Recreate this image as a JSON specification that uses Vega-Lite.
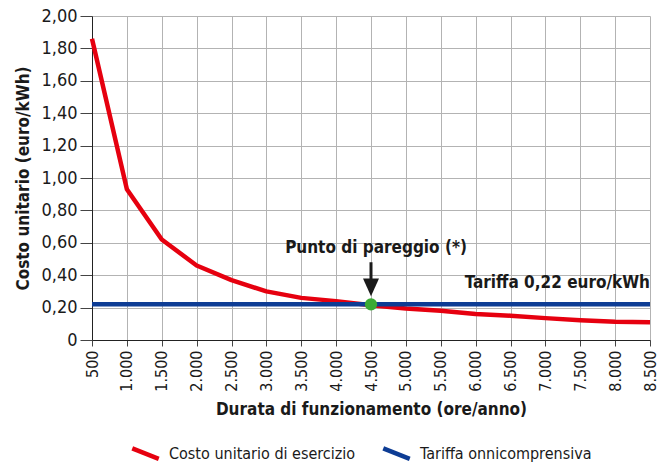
{
  "$schema": "https://vega.github.io/schema/vega-lite/v6.json",
  "width": 558,
  "height": 324,
  "autosize": {"type": "none"},
  "padding": {"left": 92, "top": 16, "right": 10, "bottom": 126},
  "background": "white",
  "config": {
    "locale": {"number": {"decimal": ",", "thousands": ".", "grouping": [3], "currency": ["€", ""]}},
    "font": "DejaVu Sans Condensed, Roboto, sans-serif",
    "view": {"stroke": null},
    "axis": {
      "labelFont": "DejaVu Sans Condensed, Roboto, sans-serif",
      "titleFont": "DejaVu Sans Condensed, Roboto, sans-serif",
      "labelColor": "#1a1a1a",
      "titleColor": "#1a1a1a",
      "domainColor": "#222222",
      "tickColor": "#444444",
      "gridColor": "#b3b3b3",
      "gridWidth": 1,
      "labelOverlap": false
    }
  },
  "datasets": {
    "series": [
      {"ore": 500, "costo": 1.86, "serie": "Costo unitario di esercizio"},
      {"ore": 1000, "costo": 0.93, "serie": "Costo unitario di esercizio"},
      {"ore": 1500, "costo": 0.62, "serie": "Costo unitario di esercizio"},
      {"ore": 2000, "costo": 0.46, "serie": "Costo unitario di esercizio"},
      {"ore": 2500, "costo": 0.37, "serie": "Costo unitario di esercizio"},
      {"ore": 3000, "costo": 0.30, "serie": "Costo unitario di esercizio"},
      {"ore": 3500, "costo": 0.26, "serie": "Costo unitario di esercizio"},
      {"ore": 4000, "costo": 0.24, "serie": "Costo unitario di esercizio"},
      {"ore": 4500, "costo": 0.215, "serie": "Costo unitario di esercizio"},
      {"ore": 5000, "costo": 0.195, "serie": "Costo unitario di esercizio"},
      {"ore": 5500, "costo": 0.18, "serie": "Costo unitario di esercizio"},
      {"ore": 6000, "costo": 0.16, "serie": "Costo unitario di esercizio"},
      {"ore": 6500, "costo": 0.15, "serie": "Costo unitario di esercizio"},
      {"ore": 7000, "costo": 0.135, "serie": "Costo unitario di esercizio"},
      {"ore": 7500, "costo": 0.122, "serie": "Costo unitario di esercizio"},
      {"ore": 8000, "costo": 0.112, "serie": "Costo unitario di esercizio"},
      {"ore": 8500, "costo": 0.11, "serie": "Costo unitario di esercizio"},
      {"ore": 500, "costo": 0.22, "serie": "Tariffa onnicomprensiva"},
      {"ore": 8500, "costo": 0.22, "serie": "Tariffa onnicomprensiva"}
    ],
    "pareggio": [{"ore": 4500, "costo": 0.22}],
    "freccia": [{"ore": 4500, "y1": 0.48, "y2": 0.36, "tip": 0.325}],
    "etichetta1": [{"ore": 4500, "costo": 0.57, "testo": "Punto di pareggio (*)"}],
    "etichetta2": [{"ore": 8500, "costo": 0.35, "testo": "Tariffa 0,22 euro/kWh"}]
  },
  "layer": [
    {
      "data": {"name": "series"},
      "mark": {"type": "line", "strokeWidth": 4.5, "strokeJoin": "round", "strokeCap": "butt", "clip": false},
      "encoding": {
        "x": {
          "field": "ore", "type": "quantitative",
          "scale": {"domain": [500, 8500], "nice": false, "zero": false},
          "axis": {
            "values": [500, 1000, 1500, 2000, 2500, 3000, 3500, 4000, 4500, 5000, 5500, 6000, 6500, 7000, 7500, 8000, 8500],
            "tickCount": 40,
            "labelOverlap": false,
            "format": ",d",
            "labelAngle": -90,
            "labelFontSize": 16,
            "labelPadding": 4,
            "tickSize": 6,
            "title": "Durata di funzionamento (ore/anno)",
            "titleFontSize": 17,
            "titleFontWeight": "bold",
            "titlePadding": 10,
            "grid": true
          }
        },
        "y": {
          "field": "costo", "type": "quantitative",
          "scale": {"domain": [0, 2], "nice": false},
          "axis": {
            "values": [0, 0.2, 0.4, 0.6, 0.8, 1.0, 1.2, 1.4, 1.6, 1.8, 2.0],
            "tickCount": 40,
            "labelOverlap": false,
            "labelExpr": "datum.value == 0 ? '0' : format(datum.value, '.2f')",
            "labelFontSize": 18,
            "labelPadding": 3,
            "tickSize": 12,
            "title": "Costo unitario (euro/kWh)",
            "titleFontSize": 17,
            "titleFontWeight": "bold",
            "titlePadding": 8,
            "grid": true
          }
        },
        "color": {
          "field": "serie", "type": "nominal",
          "scale": {"domain": ["Costo unitario di esercizio", "Tariffa onnicomprensiva"], "range": ["#e6000f", "#0d3c94"]},
          "legend": {
            "title": null,
            "orient": "none",
            "direction": "horizontal",
            "legendX": 38,
            "legendY": 422,
            "symbolType": "M-1,-0.4L1,0.4",
            "symbolSize": 700,
            "symbolStrokeWidth": 4.5,
            "labelFontSize": 16,
            "labelFont": "DejaVu Sans Condensed, Roboto, sans-serif",
            "labelColor": "#1a1a1a",
            "columnPadding": 18,
            "labelOffset": 8,
            "labelLimit": 300
          }
        }
      }
    },
    {
      "data": {"name": "pareggio"},
      "mark": {"type": "point", "filled": true, "size": 150, "color": "#3aaa35", "opacity": 1},
      "encoding": {
        "x": {"field": "ore", "type": "quantitative"},
        "y": {"field": "costo", "type": "quantitative"}
      }
    },
    {
      "data": {"name": "freccia"},
      "mark": {"type": "rule", "strokeWidth": 3, "color": "#1a1a1a"},
      "encoding": {
        "x": {"field": "ore", "type": "quantitative"},
        "y": {"field": "y1", "type": "quantitative"},
        "y2": {"field": "y2"}
      }
    },
    {
      "data": {"name": "freccia"},
      "mark": {"type": "point", "shape": "M-1,-1.1L1,-1.1L0,1.1Z", "filled": true, "size": 256, "color": "#1a1a1a", "opacity": 1},
      "encoding": {
        "x": {"field": "ore", "type": "quantitative"},
        "y": {"field": "tip", "type": "quantitative"}
      }
    },
    {
      "data": {"name": "etichetta1"},
      "mark": {"type": "text", "fontSize": 17, "fontWeight": "bold", "color": "#1a1a1a", "font": "DejaVu Sans Condensed, Roboto, sans-serif", "baseline": "middle", "align": "center", "dx": 5},
      "encoding": {
        "x": {"field": "ore", "type": "quantitative"},
        "y": {"field": "costo", "type": "quantitative"},
        "text": {"field": "testo"}
      }
    },
    {
      "data": {"name": "etichetta2"},
      "mark": {"type": "text", "fontSize": 17, "fontWeight": "bold", "color": "#1a1a1a", "font": "DejaVu Sans Condensed, Roboto, sans-serif", "baseline": "middle", "align": "right"},
      "encoding": {
        "x": {"field": "ore", "type": "quantitative"},
        "y": {"field": "costo", "type": "quantitative"},
        "text": {"field": "testo"}
      }
    }
  ]
}
